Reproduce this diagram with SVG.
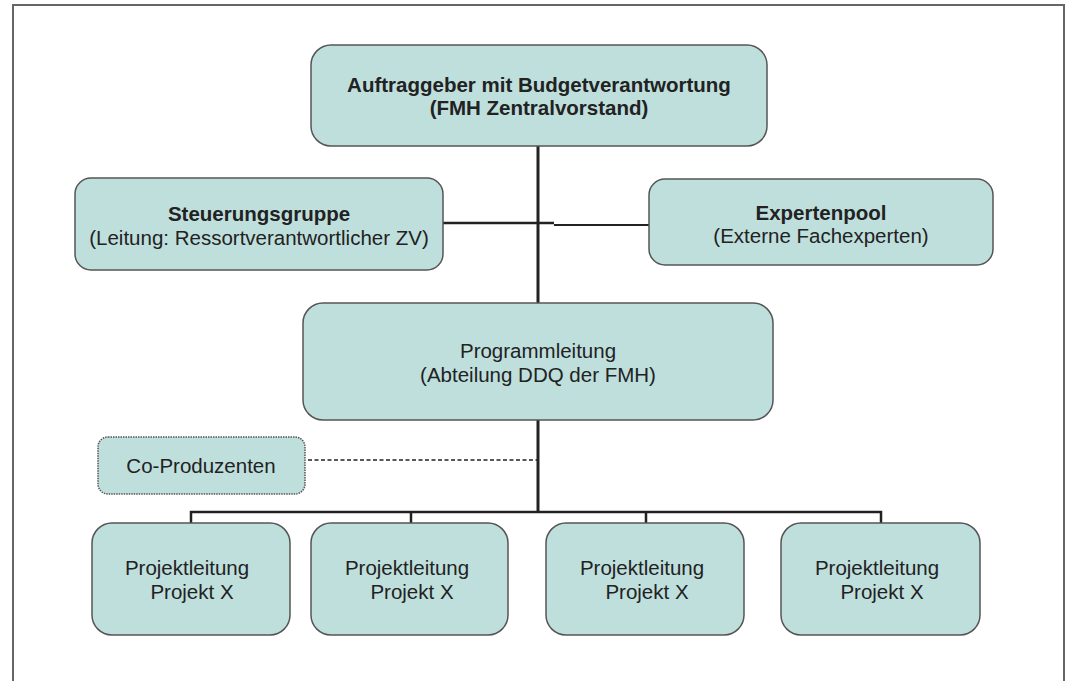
<svg xmlns="http://www.w3.org/2000/svg" width="1070" height="681" viewBox="0 0 1070 681">
<style>
.box{fill:#bfdfdd;stroke:#555;stroke-width:1.5}
.dot{fill:#bfdfdd;stroke:#555;stroke-width:1.5;stroke-dasharray:1.5 1}
.t{font-family:"Liberation Sans",Arial,sans-serif;font-size:20.5px;fill:#222;text-anchor:middle}
.b{font-weight:bold}
.ln{stroke:#222;fill:none}
</style>
<rect width="1070" height="681" fill="#fff"/>
<path d="M13 681V5H1064V681" fill="none" stroke="#666" stroke-width="2"/>
<g id="connectors">
<line class="ln" x1="538" y1="145" x2="538" y2="513" stroke-width="3"/>
<line class="ln" x1="443" y1="223" x2="554" y2="223" stroke-width="2.5"/>
<line class="ln" x1="554" y1="225" x2="649" y2="225" stroke-width="2"/>
<path class="ln" d="M191 523V512H881V523M411 512V523M646 512V523" stroke-width="2.5"/>
<line class="ln" x1="308" y1="460" x2="538" y2="460" stroke-width="1.5" stroke-dasharray="4 2.5"/>
</g>
<g id="auftraggeber">
<rect class="box" x="311" y="45" width="456" height="101" rx="20"/>
<text class="t b" x="539" y="92">Auftraggeber mit Budgetverantwortung</text>
<text class="t b" x="539" y="115">(FMH Zentralvorstand)</text>
</g>
<g id="steuerungsgruppe">
<rect class="box" x="75" y="178" width="368" height="92" rx="16"/>
<text class="t b" x="259" y="221">Steuerungsgruppe</text>
<text class="t" x="259" y="245">(Leitung: Ressortverantwortlicher ZV)</text>
</g>
<g id="expertenpool">
<rect class="box" x="649" y="179" width="344" height="86" rx="16"/>
<text class="t b" x="821" y="220">Expertenpool</text>
<text class="t" x="821" y="243">(Externe Fachexperten)</text>
</g>
<g id="programmleitung">
<rect class="box" x="303" y="303" width="470" height="117" rx="20"/>
<text class="t" x="538" y="358">Programmleitung</text>
<text class="t" x="538" y="382">(Abteilung DDQ der FMH)</text>
</g>
<g id="coproduzenten">
<rect class="dot" x="98" y="437" width="207" height="57" rx="10"/>
<text class="t" x="201" y="473">Co-Produzenten</text>
</g>
<g id="projekt1">
<rect class="box" x="92" y="523" width="198" height="112" rx="20"/>
<text class="t" x="187" y="575">Projektleitung</text>
<text class="t" x="192" y="599">Projekt X</text>
</g>
<g id="projekt2">
<rect class="box" x="311" y="523" width="197" height="112" rx="20"/>
<text class="t" x="407" y="575">Projektleitung</text>
<text class="t" x="412" y="599">Projekt X</text>
</g>
<g id="projekt3">
<rect class="box" x="546" y="523" width="198" height="112" rx="20"/>
<text class="t" x="642" y="575">Projektleitung</text>
<text class="t" x="647" y="599">Projekt X</text>
</g>
<g id="projekt4">
<rect class="box" x="781" y="523" width="199" height="112" rx="20"/>
<text class="t" x="877" y="575">Projektleitung</text>
<text class="t" x="882" y="599">Projekt X</text>
</g>
</svg>
